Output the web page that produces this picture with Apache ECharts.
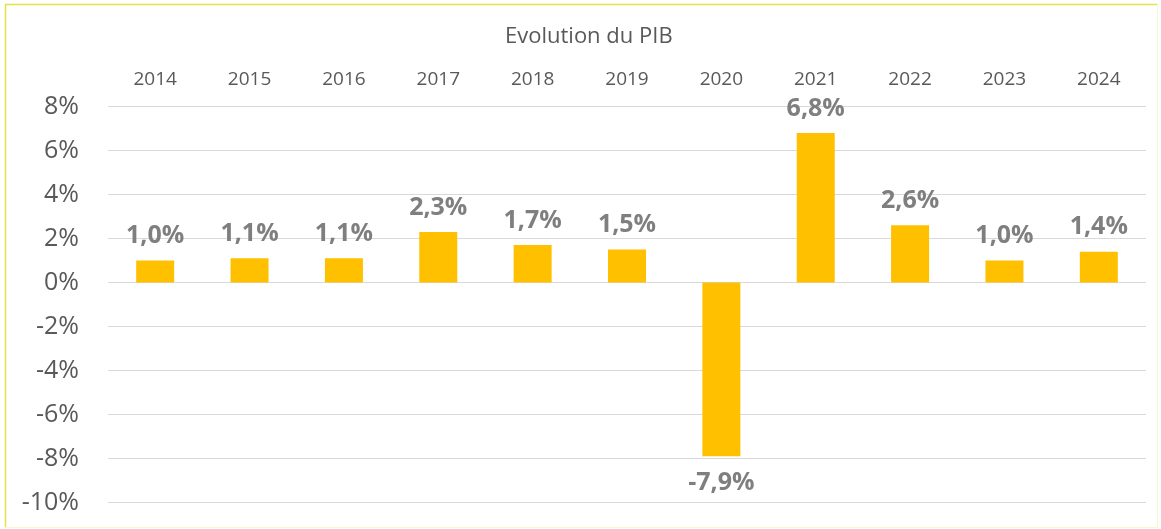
<!DOCTYPE html>
<html>
<head>
<meta charset="utf-8">
<script src="https://cdn.jsdelivr.net/npm/echarts@6/dist/echarts.min.js"></script>
<style>
html,body{margin:0;padding:0;background:#fff;}
#chart{width:1161px;height:529px;}
</style>
</head>
<body>
<div id="chart"></div>
<script>
const categories = ['2014','2015','2016','2017','2018','2019','2020','2021','2022','2023','2024'];
const growth = [1.0, 1.1, 1.1, 2.3, 1.7, 1.5, -7.9, 6.8, 2.6, 1.0, 1.4];
const yMin = -10, yMax = 8, yStep = 2;
const titleText = 'Evolution du PIB';

const chart = echarts.init(document.getElementById('chart'), null, {renderer:'canvas'});
const fmt = v => v.toFixed(1).replace('.', ',') + '%';

chart.setOption({
  animation: false,
  backgroundColor: '#ffffff',
  title: {
    text: titleText,
    left: 500,
    top: 21,
    textStyle: {fontFamily: 'Open Sans', fontSize: 22, fontWeight: 'normal', color: '#595959'}
  },
  grid: {left: 108, right: 15, top: 106.5, bottom: 26.5, containLabel: false},
  xAxis: {
    type: 'category',
    data: categories,
    position: 'top',
    axisLine: {show: false},
    axisTick: {show: false},
    axisLabel: {fontFamily: 'Open Sans', fontSize: 19, color: '#595959', margin: 17}
  },
  yAxis: {
    type: 'value',
    min: yMin, max: yMax, interval: yStep,
    axisLine: {show: false},
    axisTick: {show: false},
    splitLine: {lineStyle: {color: '#D9D9D9', width: 1.2}},
    axisLabel: {fontFamily: 'Open Sans', fontSize: 25, color: '#595959', margin: 29, formatter: v => v + '%'}
  },
  series: [{
    type: 'bar',
    barWidth: 38,
    itemStyle: {color: '#FFC000'},
    label: {
      show: true,
      position: 'top',
      distance: 12,
      fontFamily: 'Open Sans',
      fontWeight: 'bold',
      fontSize: 25,
      color: '#7F7F7F',
      formatter: p => fmt(p.value)
    },
    data: growth.map(v => v < 0 ? {value: v, label: {position: 'bottom', distance: 14}} : v)
  }],
  graphic: [
    {type: 'line', shape: {x1: 5, y1: 4.5, x2: 1158, y2: 4.5}, style: {stroke: '#E3E347', lineWidth: 1.5}, silent: true},
    {type: 'line', shape: {x1: 5.5, y1: 4, x2: 5.5, y2: 527}, style: {stroke: '#E3E347', lineWidth: 1.5}, silent: true},
    {type: 'line', shape: {x1: 1157.5, y1: 4, x2: 1157.5, y2: 527}, style: {stroke: '#F8F8D0', lineWidth: 1}, silent: true},
    {type: 'line', shape: {x1: 5, y1: 527.5, x2: 1158, y2: 527.5}, style: {stroke: '#F8F8D0', lineWidth: 1}, silent: true}
  ]
});
</script>
</body>
</html>
